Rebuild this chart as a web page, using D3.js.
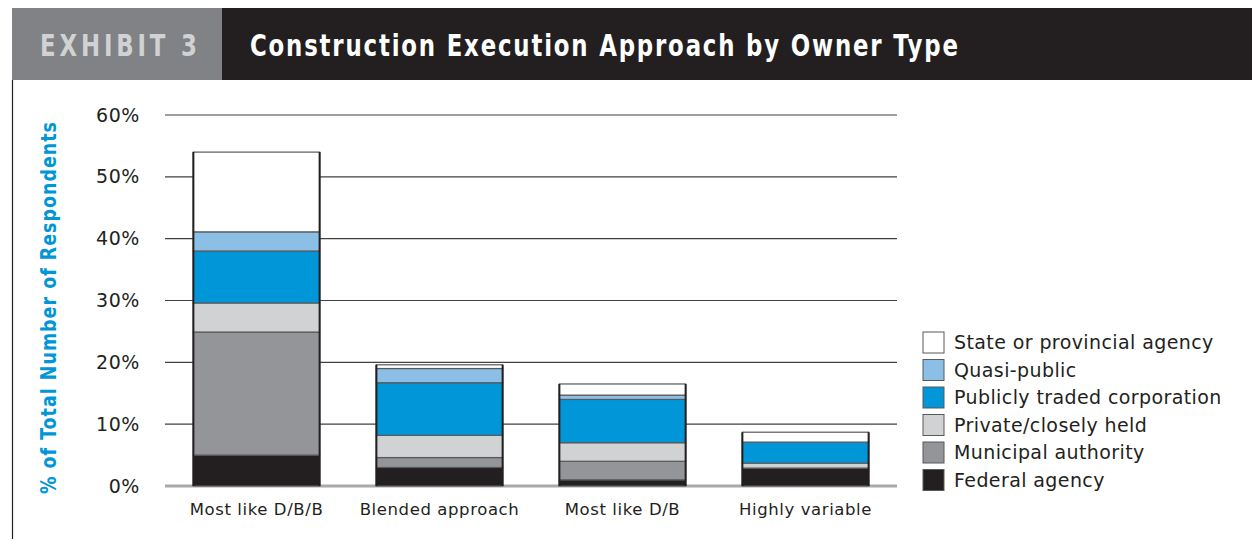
<!DOCTYPE html>
<html>
<head>
<meta charset="utf-8">
<script src="https://cdn.jsdelivr.net/npm/d3@7"></script>
<style>
  body { margin: 0; background: #fff; }
  svg { display: block; }
  .tick-label, .cat-label, .legend-label { font-family: "DejaVu Sans", sans-serif; fill: #231f20; }
</style>
</head>
<body>
<svg id="chart" width="1252" height="539"></svg>
<script>
// categories and series (values in %)
const categories = ["Most like D/B/B", "Blended approach", "Most like D/B", "Highly variable"];
const seriesNames = [
  "Federal agency",
  "Municipal authority",
  "Private/closely held",
  "Publicly traded corporation",
  "Quasi-public",
  "State or provincial agency",
];
const federal = [5.0, 3.0, 1.0, 2.9];
const municipal = [19.9, 1.6, 3.0, 0];
const privateHeld = [4.7, 3.6, 3.0, 0.8];
const publicCorp = [8.4, 8.5, 7.0, 3.4];
const quasiPublic = [3.1, 2.3, 0.7, 0];
const statePro = [12.9, 0.6, 1.8, 1.6];
const yTicks = [0, 10, 20, 30, 40, 50, 60];

const colors = ["#231f20", "#939598", "#d1d2d4", "#0096d8", "#8bbfe6", "#ffffff"];

const svg = d3.select("#chart");

// header band
svg.append("rect").attr("x", 12).attr("y", 8).attr("width", 210).attr("height", 72).attr("fill", "#808285");
svg.append("rect").attr("x", 222).attr("y", 8).attr("width", 1030).attr("height", 72).attr("fill", "#231f20");
// condensed look: squeeze a bold face horizontally
svg.append("text")
  .attr("transform", "translate(40,56) scale(0.82,1)")
  .attr("textLength", 157 / 0.82).attr("lengthAdjust", "spacing")
  .style("font-family", "'DejaVu Sans Condensed', 'DejaVu Sans', sans-serif")
  .style("font-weight", "bold").style("font-size", "31px")
  .attr("fill", "#d1d2d4")
  .text("EXHIBIT 3");
svg.append("text")
  .attr("transform", "translate(250,56) scale(0.82,1)")
  .attr("textLength", 708 / 0.82).attr("lengthAdjust", "spacing")
  .style("font-family", "'DejaVu Sans Condensed', 'DejaVu Sans', sans-serif")
  .style("font-weight", "bold").style("font-size", "31px")
  .attr("fill", "#ffffff")
  .text("Construction Execution Approach by Owner Type");

// left rule
svg.append("line").attr("x1", 12.5).attr("x2", 12.5).attr("y1", 80).attr("y2", 539)
  .attr("stroke", "#231f20").attr("stroke-width", 1.2);

// data table
const table = categories.map((c, i) => ({
  category: c,
  "Federal agency": federal[i],
  "Municipal authority": municipal[i],
  "Private/closely held": privateHeld[i],
  "Publicly traded corporation": publicCorp[i],
  "Quasi-public": quasiPublic[i],
  "State or provincial agency": statePro[i],
}));
const stacked = d3.stack().keys(seriesNames)(table);

const x = d3.scaleBand().domain(categories).range([165, 897]).paddingInner(0.31).paddingOuter(0.155);
const y = d3.scaleLinear().domain([0, 60]).range([486, 115]);

// gridlines
svg.append("g").selectAll("line")
  .data(yTicks)
  .join("line")
  .attr("x1", 165).attr("x2", 897)
  .attr("y1", (d) => y(d)).attr("y2", (d) => y(d))
  .attr("stroke", (d) => (d === 0 ? "#a7a9ac" : "#414042"))
  .attr("stroke-width", (d) => (d === 0 ? 3 : 1.2));

// y tick labels
svg.append("g").selectAll("text")
  .data(yTicks)
  .join("text")
  .attr("class", "tick-label")
  .attr("x", 140).attr("y", (d) => y(d))
  .attr("dy", "0.35em")
  .attr("text-anchor", "end")
  .style("font-size", "19px")
  .style("letter-spacing", "0.6px")
  .text((d) => d + "%");

// y axis title
svg.append("text")
  .attr("transform", "translate(56,308) rotate(-90) scale(0.88,1)")
  .attr("text-anchor", "middle")
  .attr("textLength", 372 / 0.88).attr("lengthAdjust", "spacing")
  .style("font-family", "'DejaVu Sans Condensed', 'DejaVu Sans', sans-serif")
  .style("font-weight", "bold").style("font-size", "22px")
  .attr("fill", "#0096d8")
  .text("% of Total Number of Respondents");

// bars
const barsG = svg.append("g");
barsG.selectAll("g")
  .data(stacked)
  .join("g")
  .attr("fill", (d, i) => colors[i])
  .selectAll("rect")
  .data((d) => d.filter((s) => s[1] - s[0] > 0))
  .join("rect")
  .attr("x", (d) => x(d.data.category))
  .attr("y", (d) => y(d[1]))
  .attr("width", x.bandwidth())
  .attr("height", (d) => y(d[0]) - y(d[1]))
  .attr("stroke", "#58595b")
  .attr("stroke-width", 1.2);

// bar side edges
const totals = table.map((d) => d3.sum(seriesNames, (k) => d[k]));
barsG.selectAll("path.edge")
  .data(categories)
  .join("path")
  .attr("class", "edge")
  .attr("fill", "none")
  .attr("stroke", "#231f20")
  .attr("stroke-width", 2)
  .attr("d", (c, i) => {
    const x0 = x(c), x1 = x(c) + x.bandwidth();
    return `M${x0},${y(0)}V${y(totals[i])}M${x1},${y(0)}V${y(totals[i])}`;
  });

// category labels
svg.append("g").selectAll("text")
  .data(categories)
  .join("text")
  .attr("class", "cat-label")
  .attr("x", (d) => x(d) + x.bandwidth() / 2)
  .attr("y", 515)
  .attr("text-anchor", "middle")
  .style("font-size", "16.5px")
  .style("letter-spacing", "0.6px")
  .text((d) => d);

// legend (top entry is the top of the stack)
const legendItems = seriesNames.map((n, i) => ({ name: n, color: colors[i] })).reverse();
const legend = svg.append("g").attr("transform", "translate(923,332)");
const row = legend.selectAll("g")
  .data(legendItems)
  .join("g")
  .attr("transform", (d, i) => `translate(0,${i * 27.5})`);
row.append("rect")
  .attr("width", 21).attr("height", 21)
  .attr("fill", (d) => d.color)
  .attr("stroke", "#58595b").attr("stroke-width", 1);
row.append("text")
  .attr("class", "legend-label")
  .attr("x", 31).attr("y", 10.5)
  .attr("dy", "0.36em")
  .style("font-size", "19px")
  .style("letter-spacing", "0.4px")
  .text((d) => d.name);
</script>
</body>
</html>
